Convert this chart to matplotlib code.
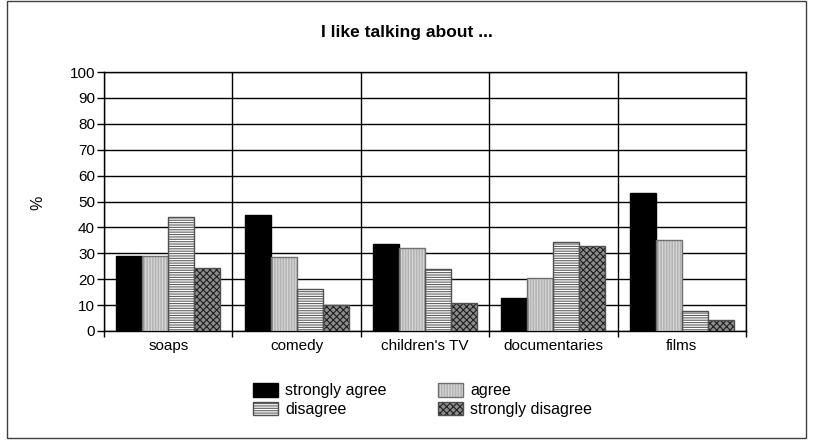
import numpy as np
import matplotlib
matplotlib.use('Agg')
import matplotlib.pyplot as plt
from matplotlib.patches import Patch, Rectangle

plt.rcParams['font.family'] = ['Liberation Sans', 'DejaVu Sans']
plt.rcParams['hatch.linewidth'] = 0.8

categories = ['soaps', 'comedy', "children's TV", 'documentaries', 'films']
series = ['strongly agree', 'agree', 'disagree', 'strongly disagree']
strongly_agree = [29, 44.7, 33.4, 12.8, 53.3]
agree = [29, 28.4, 32, 20.6, 35.2]
disagree = [44.1, 16.4, 24.1, 34.5, 7.8]
strongly_disagree = [24.2, 10.2, 10.9, 32.7, 4.3]
values = [strongly_agree, agree, disagree, strongly_disagree]

# face colour, hatch colour, hatch, outline colour
styles = [
    ('black', 'black', None, 'black'),
    ('#b4b4b4', '#d8d8d8', '||||||', '#707070'),
    ('white', '#606060', '-------', '#505050'),
    ('#8c8c8c', '#202020', 'xxxxx', '#505050'),
]

fig = plt.figure(figsize=(8.13, 4.46), dpi=100)
ax = fig.add_axes([104/813, 1-331/446, (746-104)/813, (331-72)/446])

x = np.arange(len(categories))
w = 0.2025
handles = []
for i, (vals, st) in enumerate(zip(values, styles)):
    fc, hc, hatch, ec = st
    pos = x + (i - 1.5) * w
    ax.bar(pos, vals, w, color=fc, edgecolor=hc, hatch=hatch, linewidth=0, zorder=3)
    ax.bar(pos, vals, w, fill=False, edgecolor=ec, linewidth=1.0, zorder=4)
    handles.append((Patch(facecolor=fc, edgecolor=hc, hatch=hatch, linewidth=0),
                    Patch(fill=False, edgecolor=ec, linewidth=1.0)))

ax.set_xlim(-0.5, len(categories) - 0.5)
ax.set_ylim(0, 100)
ax.set_yticks(np.arange(0, 101, 10))
ax.set_xticks(x)
ax.set_xticklabels(categories)
ax.set_xticks(np.arange(-0.5, len(categories), 1), minor=True)
ax.tick_params(axis='x', which='major', length=0, labelsize=11, pad=6)
ax.tick_params(axis='x', which='minor', length=4, width=1, direction='out', color='black')
ax.tick_params(axis='y', length=5, width=1, labelsize=11, pad=1.5)
ax.yaxis.grid(True, color='black', linewidth=1, zorder=1)
ax.xaxis.grid(True, which='minor', color='black', linewidth=1, zorder=1)
ax.set_axisbelow(True)
for s in ax.spines.values():
    s.set_linewidth(1)
    s.set_color('black')
ax.set_ylabel('%', fontsize=11.5)
ax.yaxis.set_label_coords(-0.092, 0.494)

fig.suptitle('I like talking about ...', fontsize=12.5, fontweight='bold', y=1-32/446, va='center')

order = [0, 2, 1, 3]
fig.legend([handles[k] for k in order], [series[k] for k in order],
           ncol=2, loc='upper left', bbox_to_anchor=(253/813, 1-383/446),
           frameon=False, fontsize=11.5, handlelength=1.55, handleheight=0.95,
           handletextpad=0.45, columnspacing=3.25, labelspacing=0.2,
           borderpad=0, borderaxespad=0)

fig.patches.append(Rectangle((7/813, 1-438/446), 799/813, 437/446, transform=fig.transFigure,
                             fill=False, edgecolor='#404040', linewidth=1))

fig.savefig('out.png', dpi=100)
